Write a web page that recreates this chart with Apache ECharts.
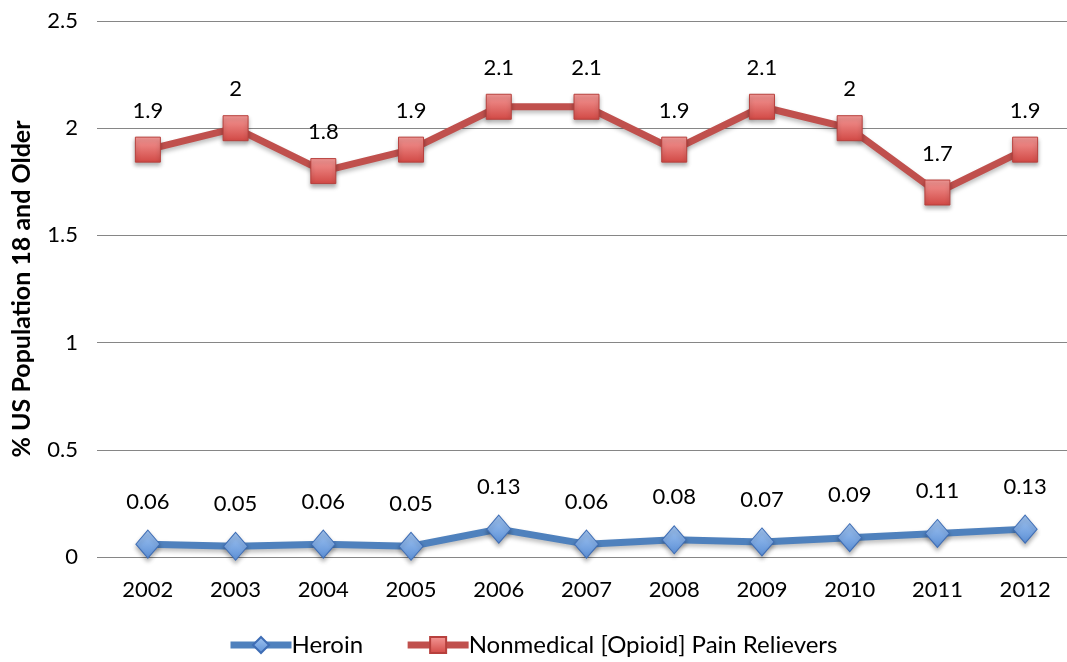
<!DOCTYPE html>
<html>
<head>
<meta charset="utf-8">
<script src="https://cdn.jsdelivr.net/npm/echarts@6/dist/echarts.min.js"></script>
<style>
  html, body { margin: 0; padding: 0; background: #ffffff; }
  #chart { width: 1067px; height: 662px; }
</style>
</head>
<body>
<div id="chart"></div>
<script>
// Survey years on the category axis
const years = ['2002', '2003', '2004', '2005', '2006', '2007', '2008', '2009', '2010', '2011', '2012'];

// Past-year use, % of US population aged 18 and older
const heroin = [0.06, 0.05, 0.06, 0.05, 0.13, 0.06, 0.08, 0.07, 0.09, 0.11, 0.13];
const painRelievers = [1.9, 2, 1.8, 1.9, 2.1, 2.1, 1.9, 2.1, 2, 1.7, 1.9];

const seriesNames = ['Heroin', 'Nonmedical [Opioid] Pain Relievers'];
const yAxisTitle = '% US Population 18 and Older';

const FONT = 'Lato, "Open Sans", sans-serif';
const TEXT_SIZE = 22;

function vGradient(top, bottom) {
  return new echarts.graphic.LinearGradient(0, 0, 0, 1, [
    { offset: 0, color: top },
    { offset: 1, color: bottom }
  ]);
}

const chart = echarts.init(document.getElementById('chart'), null, { renderer: 'canvas' });

chart.setOption({
  animation: false,
  backgroundColor: '#ffffff',
  textStyle: { fontFamily: FONT, color: '#000000' },
  grid: {
    left: 104, top: 21, width: 965, height: 536,
    containLabel: false, outerBoundsMode: 'none'
  },
  legend: {
    top: 633,
    left: 227,
    padding: 0,
    itemWidth: 61,
    itemHeight: 20,
    itemGap: 41,
    lineStyle: { width: 7 },
    textStyle: { fontFamily: FONT, fontSize: 24, color: '#000000', padding: [0, 0, 0, -5] },
    data: seriesNames
  },
  xAxis: {
    type: 'category',
    data: years,
    boundaryGap: true,
    axisLine: { show: true, lineStyle: { color: '#868686', width: 1 } },
    axisTick: { show: false },
    axisLabel: { fontFamily: FONT, fontSize: TEXT_SIZE, color: '#000000', margin: 22 },
    splitLine: { show: false }
  },
  yAxis: {
    type: 'value',
    min: 0,
    max: 2.5,
    interval: 0.5,
    name: yAxisTitle,
    nameLocation: 'middle',
    nameGap: 70,
    nameRotate: 90,
    nameTextStyle: { fontFamily: FONT, fontSize: 25, fontWeight: 'bold', color: '#000000' },
    axisLine: { show: false },
    axisTick: { show: true, inside: false, length: 7, lineStyle: { color: '#868686' } },
    axisLabel: { fontFamily: FONT, fontSize: TEXT_SIZE, color: '#000000', margin: 26 },
    splitLine: { show: true, lineStyle: { color: '#868686', width: 1 } }
  },
  series: [
    {
      name: seriesNames[0],
      type: 'line',
      data: heroin,
      symbol: 'diamond',
      symbolSize: [24, 28],
      lineStyle: {
        color: '#4F81BD', width: 7,
        shadowColor: 'rgba(0,0,0,0.25)', shadowBlur: 4, shadowOffsetY: 3
      },
      itemStyle: {
        color: vGradient('#A3C6F2', '#5B8FD6'),
        borderColor: '#3E6DB5', borderWidth: 1,
        shadowColor: 'rgba(0,0,0,0.3)', shadowBlur: 4, shadowOffsetY: 3
      },
      label: {
        show: true, position: 'top', distance: 17,
        fontFamily: FONT, fontSize: TEXT_SIZE, color: '#000000'
      },
      emphasis: { disabled: true },
      z: 3
    },
    {
      name: seriesNames[1],
      type: 'line',
      data: painRelievers,
      symbol: 'rect',
      symbolSize: 25,
      lineStyle: {
        color: '#C0504D', width: 7,
        shadowColor: 'rgba(0,0,0,0.25)', shadowBlur: 4, shadowOffsetY: 3
      },
      itemStyle: {
        color: vGradient('#F59A98', '#D14844'),
        borderColor: '#B7403D', borderWidth: 1,
        shadowColor: 'rgba(0,0,0,0.3)', shadowBlur: 4, shadowOffsetY: 3
      },
      label: {
        show: true, position: 'top', distance: 15,
        fontFamily: FONT, fontSize: TEXT_SIZE, color: '#000000'
      },
      emphasis: { disabled: true },
      z: 3
    }
  ]
});
</script>
</body>
</html>
